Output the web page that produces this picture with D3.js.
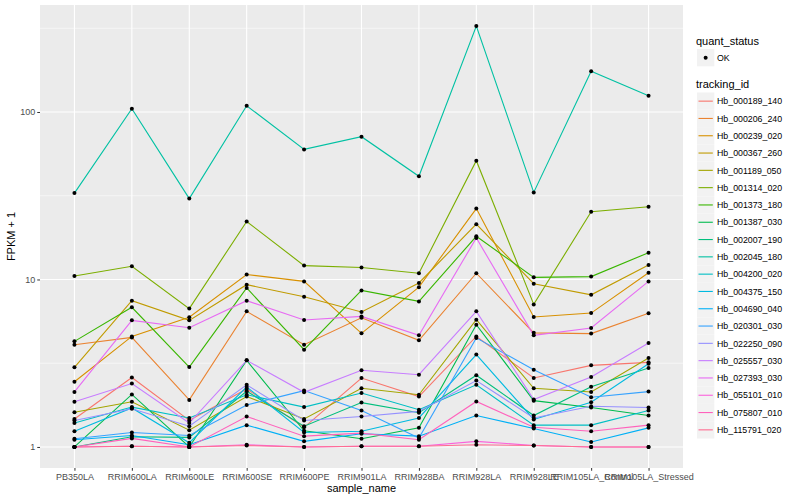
<!DOCTYPE html>
<html>
<head>
<meta charset="utf-8">
<script src="https://cdn.jsdelivr.net/npm/d3@7/dist/d3.min.js"></script>
<style>
  body { margin: 0; background: #fff; }
  text { font-family: "Liberation Sans", Arial, sans-serif; }
</style>
</head>
<body>
<svg id="chart" width="800" height="500"></svg>
<script>
/* ---------- Dados ---------- */
const samples = ["PB350LA", "RRIM600LA", "RRIM600LE", "RRIM600SE", "RRIM600PE",
  "RRIM901LA", "RRIM928BA", "RRIM928LA", "RRIM928LE", "RRIM105LA_Control", "RRIM105LA_Stressed"];

const trackingIds = ["Hb_000189_140", "Hb_000206_240", "Hb_000239_020", "Hb_000367_260",
  "Hb_001189_050", "Hb_001314_020", "Hb_001373_180", "Hb_001387_030", "Hb_002007_190",
  "Hb_002045_180", "Hb_004200_020", "Hb_004375_150", "Hb_004690_040", "Hb_020301_030",
  "Hb_022250_090", "Hb_025557_030", "Hb_027393_030", "Hb_055101_010", "Hb_075807_010",
  "Hb_115791_020"];

// FPKM + 1, uma linha por tracking_id (mesma ordem), uma coluna por amostra
const fpkmPlus1 = [
  [1.47, 2.60, 1.44, 2.22, 1.31, 2.58, 2.00, 4.57, 2.58, 3.07, 3.20],
  [4.08, 4.51, 1.91, 6.45, 4.08, 5.90, 4.33, 10.9, 4.80, 4.75, 6.28],
  [2.45, 4.57, 5.95, 10.7, 9.74, 4.77, 9.00, 26.5, 5.97, 6.30, 10.98],
  [2.99, 7.47, 5.70, 9.31, 7.89, 6.40, 9.53, 21.4, 9.43, 8.10, 12.2],
  [1.61, 1.86, 1.26, 2.00, 1.47, 2.24, 2.05, 5.75, 2.24, 2.13, 3.40],
  [10.5, 12.0, 6.70, 22.2, 12.1, 11.8, 10.9, 51.2, 7.10, 25.4, 27.2],
  [4.27, 6.82, 3.00, 8.90, 3.81, 8.60, 7.40, 18.1, 10.3, 10.4, 14.45],
  [1.00, 2.06, 1.00, 3.29, 1.25, 1.12, 1.30, 5.37, 1.89, 1.72, 1.54],
  [1.00, 1.15, 1.14, 2.15, 1.33, 1.84, 1.60, 2.68, 1.54, 2.29, 2.96],
  [32.8, 104.6, 30.4, 109, 59.8, 71.2, 41.3, 326, 33.1, 175, 125],
  [1.39, 1.73, 1.49, 2.05, 1.73, 2.10, 1.67, 2.35, 1.35, 1.35, 1.65],
  [1.24, 1.71, 1.06, 2.28, 1.22, 1.24, 1.49, 3.56, 1.46, 1.85, 3.14],
  [1.105, 1.17, 1.03, 1.35, 1.08, 1.20, 1.16, 1.54, 1.29, 1.07, 1.30],
  [1.12, 1.22, 1.17, 1.78, 2.17, 1.65, 1.13, 4.48, 2.89, 1.98, 2.14],
  [1.44, 1.69, 1.33, 2.35, 1.44, 1.52, 1.63, 2.49, 1.49, 1.75, 1.72],
  [1.86, 2.39, 1.39, 3.29, 2.12, 2.87, 2.70, 6.45, 1.92, 2.62, 4.18],
  [2.13, 5.70, 5.15, 7.47, 5.73, 6.02, 4.64, 17.7, 4.64, 5.13, 9.74],
  [1.00, 1.01, 1.00, 1.03, 1.00, 1.01, 1.01, 1.08, 1.02, 1.00, 1.00],
  [1.00, 1.125, 1.00, 1.52, 1.16, 1.21, 1.105, 1.87, 1.31, 1.24, 1.35],
  [1.00, 1.01, 1.00, 1.02, 1.00, 1.01, 1.01, 1.03, 1.02, 1.00, 1.00]
];

const hueColors = ["#F8766D", "#EA8331", "#D89000", "#C09B00", "#A3A500", "#7CAE00",
  "#39B600", "#00BB4E", "#00BF7D", "#00C1A3", "#00BFC4", "#00BAE0", "#00B0F6",
  "#35A2FF", "#9590FF", "#C77CFF", "#E76BF3", "#FA62DB", "#FF62BC", "#FF6C91"];

const yTicks = [1, 10, 100];
const yMinor = [Math.pow(10, 0.5), Math.pow(10, 1.5), Math.pow(10, 2.5)];

/* ---------- Layout ---------- */
const panel = { left: 40, right: 683, top: 5, bottom: 468 };
const svg = d3.select('#chart');

const series = trackingIds.map((id, i) => ({
  id, color: hueColors[i],
  values: fpkmPlus1[i].map((v, j) => ({ sample: samples[j], v }))
}));

const allVals = fpkmPlus1.flat();
const lo = Math.log10(d3.min(allVals)), hi = Math.log10(d3.max(allVals));
const pad = (hi - lo) * 0.05;

const x = d3.scalePoint().domain(samples)
  .range([panel.left, panel.right]).padding(0.6);
const y = d3.scaleLog().domain([Math.pow(10, lo - pad), Math.pow(10, hi + pad)])
  .range([panel.bottom, panel.top]);

/* ---------- Painel ---------- */
svg.append('rect')
  .attr('x', panel.left).attr('y', panel.top)
  .attr('width', panel.right - panel.left).attr('height', panel.bottom - panel.top)
  .attr('fill', '#EBEBEB');

const grid = svg.append('g');
grid.selectAll('.minor').data(yMinor).enter().append('line')
  .attr('x1', panel.left).attr('x2', panel.right)
  .attr('y1', d => y(d)).attr('y2', d => y(d))
  .attr('stroke', '#fff').attr('stroke-width', 0.55);
grid.selectAll('.major-y').data(yTicks).enter().append('line')
  .attr('x1', panel.left).attr('x2', panel.right)
  .attr('y1', d => y(d)).attr('y2', d => y(d))
  .attr('stroke', '#fff').attr('stroke-width', 1.1);
grid.selectAll('.major-x').data(samples).enter().append('line')
  .attr('x1', d => x(d)).attr('x2', d => x(d))
  .attr('y1', panel.top).attr('y2', panel.bottom)
  .attr('stroke', '#fff').attr('stroke-width', 1.1);

/* ---------- Linhas e pontos ---------- */
const line = d3.line().x(d => x(d.sample)).y(d => y(d.v));
svg.append('g').selectAll('path').data(series).enter().append('path')
  .attr('d', d => line(d.values))
  .attr('fill', 'none').attr('stroke', d => d.color).attr('stroke-width', 1.1);

svg.append('g').selectAll('circle')
  .data(series.flatMap(s => s.values)).enter().append('circle')
  .attr('cx', d => x(d.sample)).attr('cy', d => y(d.v))
  .attr('r', 2).attr('fill', '#000');

/* ---------- Eixos ---------- */
const yAxis = svg.append('g')
  .attr('transform', `translate(${panel.left},0)`)
  .call(d3.axisLeft(y).tickValues(yTicks).tickFormat(d3.format('d')).tickSize(2.75).tickPadding(2));
const xAxis = svg.append('g')
  .attr('transform', `translate(0,${panel.bottom})`)
  .call(d3.axisBottom(x).tickSize(2.75).tickPadding(3));

[yAxis, xAxis].forEach(a => {
  a.select('.domain').remove();
  a.selectAll('line').attr('stroke', '#333');
  a.selectAll('text').attr('fill', '#4D4D4D').style('font-size', '9px')
    .style('font-family', '"Liberation Sans", Arial, sans-serif');
});

svg.append('text')
  .attr('x', (panel.left + panel.right) / 2).attr('y', 492)
  .attr('text-anchor', 'middle').style('font-size', '11px')
  .text('sample_name');

svg.append('text')
  .attr('transform', `translate(15,${(panel.top + panel.bottom) / 2}) rotate(-90)`)
  .attr('text-anchor', 'middle').style('font-size', '11px')
  .text('FPKM + 1');

/* ---------- Legenda ---------- */
const lg = svg.append('g');
const keyX = 697, keyS = 17.3, labX = 717;

lg.append('text').attr('x', 696).attr('y', 45).style('font-size', '11px').text('quant_status');
lg.append('rect').attr('x', keyX).attr('y', 49).attr('width', keyS).attr('height', keyS).attr('fill', '#F2F2F2');
lg.append('circle').attr('cx', keyX + keyS / 2).attr('cy', 49 + keyS / 2).attr('r', 2).attr('fill', '#000');
lg.append('text').attr('x', labX).attr('y', 49 + keyS / 2 + 3.2).style('font-size', '8.8px').text('OK');

lg.append('text').attr('x', 696).attr('y', 88).style('font-size', '11px').text('tracking_id');
const keys = lg.selectAll('.key').data(series).enter().append('g')
  .attr('transform', (d, i) => `translate(${keyX},${92.5 + i * keyS})`);
keys.append('rect').attr('width', keyS).attr('height', keyS).attr('fill', '#F2F2F2');
keys.append('line').attr('x1', 1.5).attr('x2', keyS - 1.5)
  .attr('y1', keyS / 2).attr('y2', keyS / 2)
  .attr('stroke', d => d.color).attr('stroke-width', 1.1);
keys.append('text').attr('x', labX - keyX).attr('y', keyS / 2 + 3.2)
  .style('font-size', '8.8px').text(d => d.id);
</script>
</body>
</html>
